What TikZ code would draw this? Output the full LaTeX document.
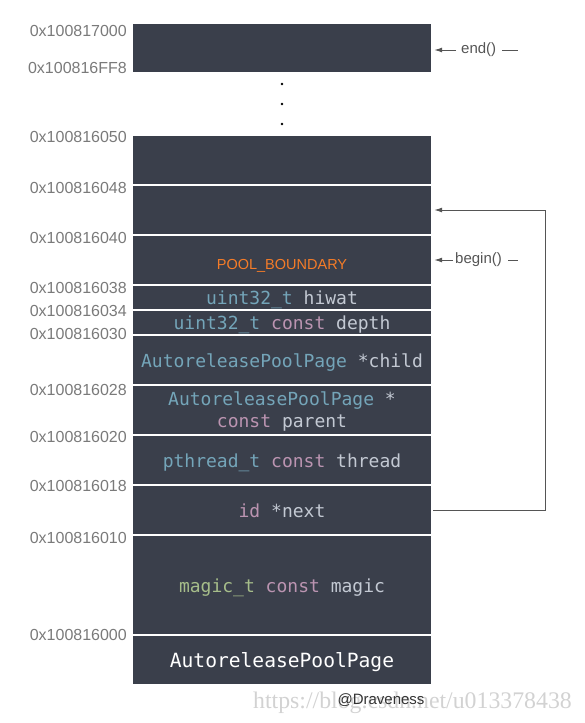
\documentclass[tikz,border=0pt]{standalone}
\usepackage{fontspec}
\setmainfont{Liberation Sans}
\newfontfamily\codefont{DejaVu Sans Mono}
\newfontfamily\wmfont{Liberation Serif}
\usetikzlibrary{arrows.meta}
\definecolor{pageslate}{HTML}{3A3F4B}
\definecolor{typeblue}{HTML}{74A5B9}
\definecolor{kwpink}{HTML}{BB94B1}
\definecolor{varwhite}{HTML}{C3C9D3}
\definecolor{magicgreen}{HTML}{A6BD8A}
\definecolor{boundorange}{HTML}{F57C28}
\definecolor{addrgrey}{HTML}{7A7A7A}
\definecolor{callgrey}{HTML}{555555}
\definecolor{wmgrey}{HTML}{D2D2D2}
\begin{document}
\begin{tikzpicture}[x=1pt,y=-1pt,
  cell/.style={fill=pageslate, minimum width=298pt, inner sep=0pt, text=varwhite, align=center, text height=14.5pt, text depth=0.5pt, font=\codefont\fontsize{18}{22}\selectfont},
  addr/.style={anchor=east, inner sep=0pt, text=addrgrey, font=\fontsize{16}{18}\selectfont},
  call/.style={anchor=west, inner sep=0pt, text=callgrey, font=\fontsize{15}{18}\selectfont},
  ptr/.style={draw=callgrey, line width=1pt, -{Latex[length=8pt,width=5pt]}},
  dashline/.style={draw=callgrey, line width=1pt}]
\useasboundingbox (0,0) rectangle (584,723);
\def\cellx{282}
\def\addrx{127}
% page cells, top to bottom
\node[cell, minimum height=48pt] (topcell) at (\cellx,48) {};
\fill (\cellx,84) circle[radius=1.3pt];
\fill (\cellx,104) circle[radius=1.3pt];
\fill (\cellx,124) circle[radius=1.3pt];
\node[cell, minimum height=48pt] (cell50) at (\cellx,160) {};
\node[cell, minimum height=48pt] (cell48) at (\cellx,210) {};
\node[cell, minimum height=48pt, font=\fontsize{14.5}{17}\selectfont, text=boundorange, text height=18pt, text depth=0pt] (cellpool) at (\cellx,260) {POOL\_BOUNDARY};
\node[cell, minimum height=23pt] (cellhiwat) at (\cellx,297.5) {\textcolor{typeblue}{uint32\_t} hiwat};
\node[cell, minimum height=23pt] (celldepth) at (\cellx,322.5) {\textcolor{typeblue}{uint32\_t} \textcolor{kwpink}{const} depth};
\node[cell, minimum height=48pt, text height=15.5pt] (cellchild) at (\cellx,360) {\textcolor{typeblue}{AutoreleasePoolPage} *child};
\node[cell, minimum height=48pt, text height=36pt, text depth=0.6pt] (cellparent) at (\cellx,410) {\textcolor{typeblue}{AutoreleasePoolPage} *\\\textcolor{kwpink}{const} parent};
\node[cell, minimum height=48pt] (cellthread) at (\cellx,460) {\textcolor{typeblue}{pthread\_t} \textcolor{kwpink}{const} thread};
\node[cell, minimum height=48pt] (cellnext) at (\cellx,510) {\textcolor{kwpink}{id} *next};
\node[cell, minimum height=98pt] (cellmagic) at (\cellx,585) {\textcolor{magicgreen}{magic\_t} \textcolor{kwpink}{const} magic};
\node[cell, minimum height=48pt, text=white, font=\codefont\fontsize{19.6}{22}\selectfont, text height=15.6pt, text depth=1pt] (cellpage) at (\cellx,660) {AutoreleasePoolPage};
% addresses
\node[addr] (a17000) at (\addrx,31) {0x100817000};
\node[addr] (a16ff8) at (\addrx,68) {0x100816FF8};
\node[addr] (a16050) at (\addrx,137) {0x100816050};
\node[addr] (a16048) at (\addrx,188) {0x100816048};
\node[addr] (a16040) at (\addrx,238) {0x100816040};
\node[addr] (a16038) at (\addrx,288) {0x100816038};
\node[addr] (a16034) at (\addrx,311) {0x100816034};
\node[addr] (a16030) at (\addrx,334) {0x100816030};
\node[addr] (a16028) at (\addrx,390) {0x100816028};
\node[addr] (a16020) at (\addrx,437) {0x100816020};
\node[addr] (a16018) at (\addrx,486) {0x100816018};
\node[addr] (a16010) at (\addrx,538) {0x100816010};
\node[addr] (a16000) at (\addrx,635) {0x100816000};
% end() and begin()
\node[call] (endcall) at (461,50) {end()};
\coordinate (enddash) at (518,50);
\draw[ptr, shorten <=5pt, shorten >=3pt] (endcall.west) -- (endcall.west -| topcell.east);
\draw[dashline, shorten <=6pt] (endcall.east) -- (enddash);
\node[call] (begincall) at (455,260) {begin()};
\coordinate (begindash) at (518,260);
\draw[ptr, shorten <=2pt, shorten >=3pt] (begincall.west) -- (begincall.west -| cellpool.east);
\draw[dashline, shorten <=6pt] (begincall.east) -- (begindash);
% next points to the free slot
\coordinate (loopx) at (545,0);
\draw[ptr, shorten <=2pt, shorten >=3pt] (cellnext.east) -- (cellnext.east -| loopx) |- (cell48.east);
% credits
\node[anchor=east, inner sep=0pt, text=wmgrey, font=\wmfont\fontsize{23.8}{26}\selectfont] (watermark) at (572,703) {https://blog.csdn.net/u013378438};
\node[inner sep=0pt, text=black!80, font=\fontsize{15}{18}\selectfont] (author) at (381,700) {@Draveness};
\end{tikzpicture}
\end{document}
